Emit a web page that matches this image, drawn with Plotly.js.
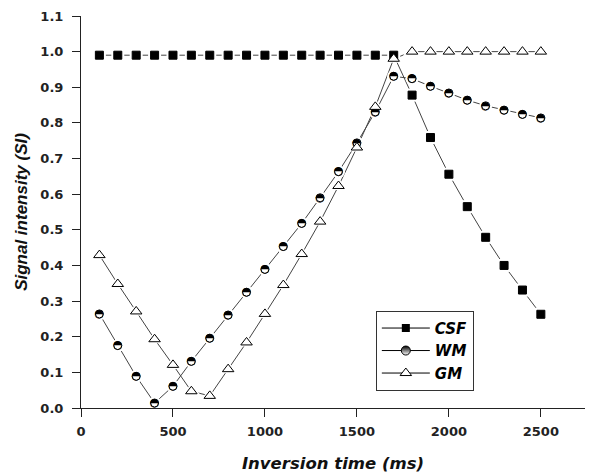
<!DOCTYPE html>
<html><head><meta charset="utf-8">
<script src="https://cdn.plot.ly/plotly-3.0.1.min.js"></script>
<style>html,body{margin:0;padding:0;background:#fff}</style>
</head><body><div id="chart" style="width:615px;height:475px"></div>
<script>
const inversionTime = [100,200,300,400,500,600,700,800,900,1000,1100,1200,1300,1400,1500,1600,1700,1800,1900,2000,2100,2200,2300,2400,2500];
const csf = [0.99,0.99,0.99,0.99,0.99,0.99,0.99,0.99,0.99,0.99,0.99,0.99,0.99,0.99,0.99,0.99,0.99,0.878,0.759,0.656,0.565,0.479,0.400,0.331,0.263];
const wm = [0.264,0.175,0.089,0.014,0.061,0.131,0.196,0.261,0.325,0.389,0.453,0.518,0.590,0.663,0.744,0.831,0.931,0.924,0.903,0.884,0.864,0.848,0.836,0.824,0.814];
const gm = [0.429,0.348,0.271,0.193,0.121,0.047,0.034,0.109,0.184,0.264,0.345,0.432,0.523,0.623,0.731,0.845,0.980,1.0,1.0,1.0,1.0,1.0,1.0,1.0,1.0];
const seriesNames = ['CSF','WM','GM'];
const xTicks = [0,500,1000,1500,2000,2500];
const yTicks = [0.0,0.1,0.2,0.3,0.4,0.5,0.6,0.7,0.8,0.9,1.0,1.1];

const lineColor = '#444';
const allY = [csf, wm, gm];
const sym = ['square','circle','triangle-up'];
const haloSize = [13, 13, 16];

const traces = [];
// connecting lines
allY.forEach((y,i)=>traces.push({x:inversionTime,y:y,mode:'lines',line:{color:lineColor,width:1},showlegend:false,hoverinfo:'skip',cliponaxis:false}));
// white halos (gap around markers)
allY.forEach((y,i)=>traces.push({x:inversionTime,y:y,mode:'markers',marker:{symbol:sym[i],size:haloSize[i],color:'#fff',line:{width:0}},showlegend:false,hoverinfo:'skip',cliponaxis:false}));
// markers
traces.push({x:inversionTime,y:csf,mode:'markers',marker:{symbol:'square',size:8,color:'#000',line:{color:'#000',width:1}},showlegend:false,cliponaxis:false});
traces.push({x:inversionTime,y:wm,mode:'markers',marker:{symbol:'circle',size:8,color:'#fff',line:{color:'#000',width:1}},showlegend:false,cliponaxis:false});
traces.push({x:inversionTime,y:wm,mode:'text',text:inversionTime.map(()=>'\u25D3'),textfont:{family:'DejaVu Sans',size:11,color:'#000'},textposition:'middle center',showlegend:false,cliponaxis:false});
traces.push({x:inversionTime,y:gm,mode:'markers',marker:{symbol:'triangle-up',size:10,color:'#fff',line:{color:'#000',width:1}},showlegend:false,cliponaxis:false});
// legend entries
traces.push({x:[null],y:[null],name:seriesNames[0],mode:'lines+markers',line:{color:'#000',width:1},marker:{symbol:'square',size:8,color:'#000'}});
traces.push({x:[null],y:[null],name:seriesNames[1],mode:'lines+markers',line:{color:'#000',width:1},marker:{symbol:'circle',size:9,color:'#000',gradient:{type:'vertical',color:'#fff'},line:{color:'#000',width:1}}});
traces.push({x:[null],y:[null],name:seriesNames[2],mode:'lines+markers',line:{color:'#000',width:1},marker:{symbol:'triangle-up',size:10,color:'#fff',line:{color:'#000',width:1}}});

const tickFont = {family:'DejaVu Sans', size:13, color:'#222', weight:'bold'};
const layout = {
  width:615, height:475,
  margin:{l:80.7, r:30, t:15.7, b:66.7},
  paper_bgcolor:'#fff', plot_bgcolor:'#fff',
  showlegend:true,
  xaxis:{range:[0,2740], tickvals:xTicks, ticktext:xTicks.map(String), showgrid:false, zeroline:false,
    showline:true, linecolor:'#222', linewidth:1, ticks:'outside', ticklen:8, tickcolor:'#222', tickwidth:1,
    tickfont:tickFont, ticklabelstandoff:3,
    title:{text:'Inversion time (ms)', font:{family:'DejaVu Sans', size:16.5, color:'#111', weight:'bold', style:'italic'}, standoff:19}},
  yaxis:{range:[0,1.1], tickvals:yTicks, ticktext:yTicks.map(v=>v.toFixed(1)), showgrid:false, zeroline:false,
    showline:true, linecolor:'#222', linewidth:1, ticks:'outside', ticklen:8, tickcolor:'#222', tickwidth:1,
    tickfont:tickFont, ticklabelstandoff:6,
    title:{text:'Signal intensity (SI)', font:{family:'Liberation Sans', size:17, color:'#111', weight:'bold', style:'italic'}, standoff:8}},
  legend:{x:0.585, y:0.248, xanchor:'left', yanchor:'top', bgcolor:'#fff', bordercolor:'#333', borderwidth:1,
    font:{family:'DejaVu Sans', size:15, color:'#000', weight:'bold', style:'italic'}, itemwidth:48, tracegroupgap:0}
};
Plotly.newPlot('chart', traces, layout, {displayModeBar:false, staticPlot:true});
</script></body></html>
